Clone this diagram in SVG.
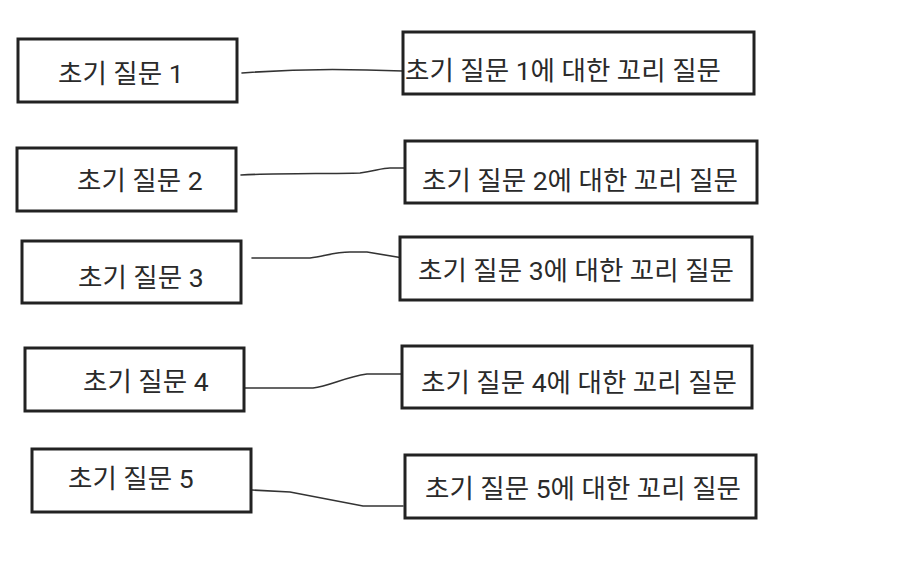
<svg xmlns="http://www.w3.org/2000/svg" width="902" height="566" viewBox="0 0 902 566">
<style>
.box{fill:#fff;stroke:#222;stroke-width:3}
.t{font-family:Roboto,"Noto Sans CJK KR",sans-serif;font-size:26.5px;fill:#2a2a2a}
.c{fill:none;stroke:#333;stroke-width:1.6;stroke-linecap:round}
</style>
<rect width="902" height="566" fill="#fff"/>
<g id="connectors">
<path class="c" d="M242,73 C280,70 330,69 367,70 L403,71"/>
<path class="c" d="M241,175 C280,173 330,174 360,173 C375,171 382,168 390,168 L405,168"/>
<path class="c" d="M252,258 L310,258 C325,256 335,252 350,252 L367,252 L403,258"/>
<path class="c" d="M242,388 L313,388 C330,386 345,377 367,374 L410,374"/>
<path class="c" d="M252,490 L290,492 L363,506 L403,506"/>
</g>
<g id="q1"><rect class="box" x="18" y="39" width="219" height="63"/><text class="t" x="58" y="83">초기 질문 1</text></g>
<g id="q2"><rect class="box" x="17" y="148" width="219" height="63"/><text class="t" x="77" y="190">초기 질문 2</text></g>
<g id="q3"><rect class="box" x="22" y="241" width="219" height="62"/><text class="t" x="78" y="287">초기 질문 3</text></g>
<g id="q4"><rect class="box" x="25" y="348" width="219" height="63"/><text class="t" x="83" y="391">초기 질문 4</text></g>
<g id="q5"><rect class="box" x="32" y="449" width="219" height="63"/><text class="t" x="68" y="488">초기 질문 5</text></g>
<g id="f1"><rect class="box" x="403" y="32" width="351" height="62"/><text class="t" x="405" y="80">초기 질문 1에 대한 꼬리 질문</text></g>
<g id="f2"><rect class="box" x="405" y="141" width="352" height="62"/><text class="t" x="422" y="190">초기 질문 2에 대한 꼬리 질문</text></g>
<g id="f3"><rect class="box" x="400" y="237" width="352" height="63"/><text class="t" x="418" y="280">초기 질문 3에 대한 꼬리 질문</text></g>
<g id="f4"><rect class="box" x="402" y="346" width="350" height="62"/><text class="t" x="421" y="392">초기 질문 4에 대한 꼬리 질문</text></g>
<g id="f5"><rect class="box" x="405" y="455" width="351" height="63"/><text class="t" x="425" y="498">초기 질문 5에 대한 꼬리 질문</text></g>
</svg>
